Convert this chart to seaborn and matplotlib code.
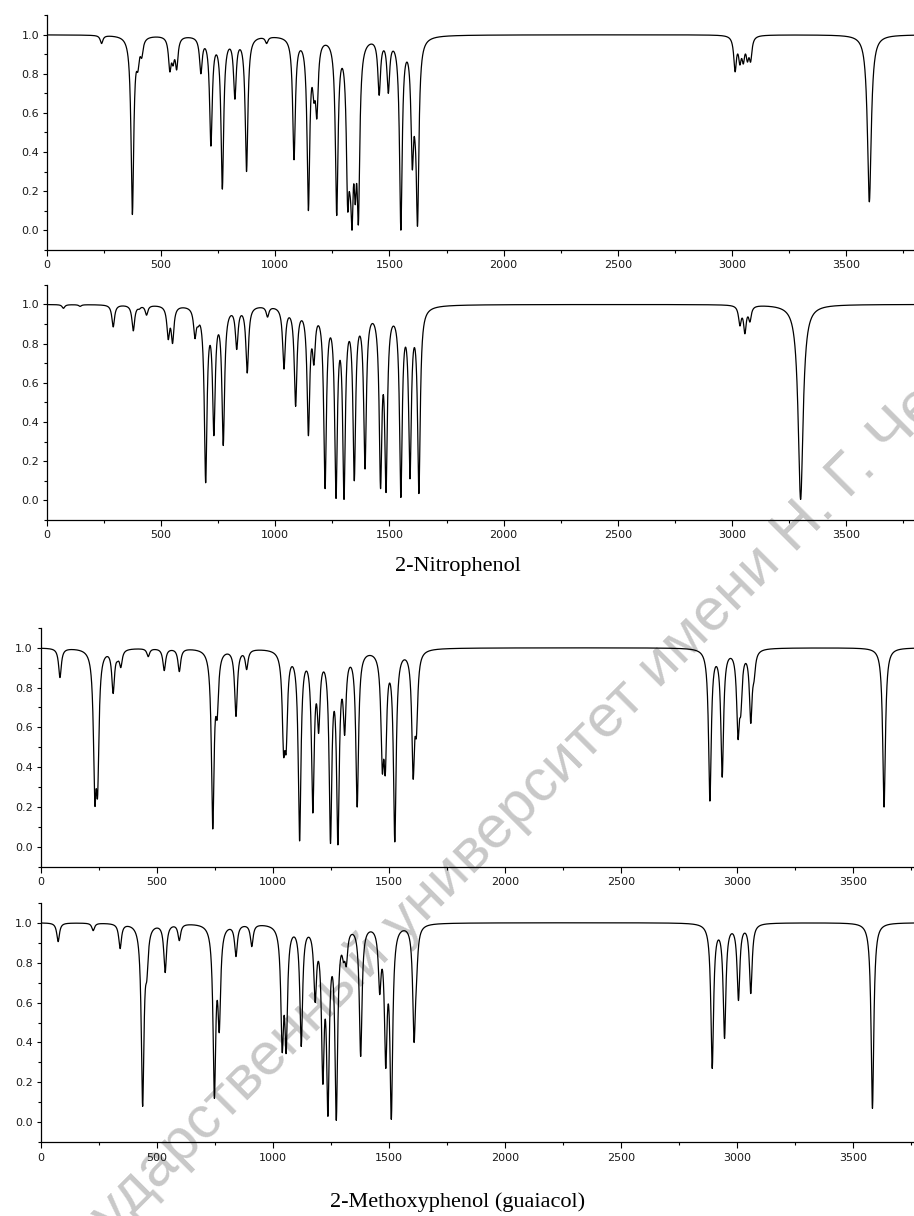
import numpy as np
import pandas as pd
import seaborn as sns
import matplotlib.pyplot as plt
from matplotlib.ticker import FixedLocator, MultipleLocator, FormatStrFormatter
from matplotlib.textpath import TextPath
from matplotlib.font_manager import FontProperties

# ---------------------------------------------------------------------------
# Band tables: wavenumber (cm-1), transmittance at band minimum, half width
# ---------------------------------------------------------------------------
nitro_a_pos = [239, 374, 398, 415, 538, 552, 568, 674, 718, 768, 823, 874, 962,
               1082, 1145, 1169, 1182, 1269, 1317, 1327, 1336, 1350, 1364,
               1455, 1495, 1550, 1600, 1612, 1623,
               3014, 3035, 3050, 3068, 3082, 3602]
nitro_a_min = [0.955, 0.08, 0.81, 0.88, 0.81, 0.84, 0.82, 0.80, 0.43, 0.21, 0.67, 0.30, 0.955,
               0.36, 0.10, 0.65, 0.57, 0.075, 0.10, 0.18, 0.00, 0.13, 0.03,
               0.69, 0.70, 0.00, 0.31, 0.45, 0.02,
               0.81, 0.845, 0.85, 0.86, 0.86, 0.145]
nitro_a_hw = [7] * 34 + [10]

nitro_b_pos = [72, 145, 290, 378, 404, 436, 531, 550, 648, 662, 695, 731, 772,
               831, 877, 966, 1038, 1089, 1145, 1169, 1218, 1266, 1301, 1346,
               1393, 1461, 1485, 1550, 1590, 1629,
               3035, 3057, 3079, 3301]
nitro_b_min = [0.98, 0.99, 0.885, 0.865, 0.975, 0.945, 0.82, 0.80, 0.825, 0.885, 0.09, 0.33, 0.28,
               0.77, 0.65, 0.935, 0.67, 0.48, 0.33, 0.69, 0.06, 0.01, 0.005, 0.10,
               0.16, 0.06, 0.04, 0.015, 0.11, 0.035,
               0.89, 0.85, 0.91, 0.005]
nitro_b_hw = [7] * 33 + [13]

guai_a_pos = [83, 233, 245, 312, 331, 345, 463, 532, 597, 741, 760, 841, 887,
              1046, 1057, 1115, 1172, 1197, 1248, 1280, 1309, 1363, 1471, 1484,
              1525, 1604, 1618,
              2882, 2935, 3003, 3015, 3058, 3072, 3632]
guai_a_min = [0.85, 0.21, 0.25, 0.77, 0.93, 0.90, 0.955, 0.885, 0.88, 0.09, 0.64, 0.655, 0.89,
              0.455, 0.47, 0.03, 0.17, 0.57, 0.017, 0.01, 0.56, 0.20, 0.37, 0.36,
              0.025, 0.34, 0.55,
              0.23, 0.35, 0.54, 0.66, 0.62, 0.83, 0.20]
guai_a_hw = [7] * 34

guai_b_pos = [75, 226, 342, 439, 457, 522, 536, 597, 748, 769, 841, 909,
              1040, 1057, 1122, 1182, 1215, 1237, 1273, 1304, 1316, 1378,
              1460, 1486, 1510, 1608, 1618,
              2892, 2945, 3005, 3058, 3582]
guai_b_min = [0.905, 0.96, 0.87, 0.08, 0.71, 0.955, 0.75, 0.91, 0.12, 0.45, 0.83, 0.88,
              0.35, 0.345, 0.38, 0.60, 0.19, 0.03, 0.01, 0.80, 0.78, 0.33,
              0.64, 0.27, 0.015, 0.40, 0.68,
              0.27, 0.42, 0.61, 0.645, 0.07]
guai_b_hw = [7] * 32

titles = ["2-Nitrophenol", "2-Methoxyphenol (guaiacol)"]
x_ticks = [0, 500, 1000, 1500, 2000, 2500, 3000, 3500]
y_ticks = [0.0, 0.2, 0.4, 0.6, 0.8, 1.0]
watermark = "Саратовский государственный университет имени Н. Г. Чернышевского"


def band_amplitudes(pos, tmin, hw, sweeps=400):
    """Lorentzian amplitudes whose summed profile reaches each band minimum."""
    c = np.asarray(pos, float)
    g = np.asarray(hw, float)
    target = 1.0 - np.asarray(tmin, float)
    M = g[None, :] ** 2 / ((c[:, None] - c[None, :]) ** 2 + g[None, :] ** 2)
    a = target.copy()
    for _ in range(sweeps):
        for i in range(len(a)):
            other = M[i] @ a - a[i]
            a[i] = max(0.0, target[i] - other)
    return a


def spectrum(grid, pos, tmin, hw):
    a = band_amplitudes(pos, tmin, hw)
    c = np.asarray(pos, float)[None, :]
    g = np.asarray(hw, float)[None, :]
    lor = g ** 2 / ((grid[:, None] - c) ** 2 + g ** 2)
    return 1.0 - lor @ a


W, H = 914, 1216
fig = plt.figure(figsize=(W / 100, H / 100), dpi=100)
sns.set_style("ticks")
plt.rcParams["font.family"] = ["DejaVu Sans"]

# background watermark at 45 degrees, drawn beneath the transparent axes;
# its size is chosen so that "д" and "Н" sit about 915 px apart
wm_prop = FontProperties(family="Liberation Sans")
span_1pt = TextPath((0, 0), "дарственный университет имени ", prop=wm_prop,
                    size=1).get_extents().width * 100 / 72
wm_size = 915 / span_1pt
lead_px = TextPath((0, 0), "Саратовский государственный университет имени ",
                   prop=wm_prop, size=wm_size).get_extents().width * 100 / 72
c45 = np.cos(np.deg2rad(45))
hx, hy = 778, 570            # baseline start of "Н"
x0 = hx - lead_px * c45
y0 = hy + lead_px * c45
fig.text(x0 / W, 1 - y0 / H, watermark, rotation=45, rotation_mode="anchor",
         ha="left", va="baseline", fontsize=wm_size, family="Liberation Sans",
         color="#c8c8c8", zorder=-5)

# panel frames in pixels: left, top (y=1.1), bottom (y=-0.1), x max, px per cm-1
frames = [
    (47.0, 15.2, 249.7, 3800, 0.2283),
    (47.0, 284.8, 520.0, 3800, 0.2283),
    (40.7, 627.8, 866.8, 3760, 0.2322),
    (40.7, 902.7, 1142.3, 3760, 0.2322),
]
tables = [
    (nitro_a_pos, nitro_a_min, nitro_a_hw),
    (nitro_b_pos, nitro_b_min, nitro_b_hw),
    (guai_a_pos, guai_a_min, guai_a_hw),
    (guai_b_pos, guai_b_min, guai_b_hw),
]

for (left, top, bottom, xmax, scale), (pos, tmin, hw) in zip(frames, tables):
    width = xmax * scale
    ax = fig.add_axes([left / W, 1 - bottom / H, width / W, (bottom - top) / H])
    ax.set_facecolor("none")
    grid = np.arange(0.0, xmax + 1.0, 0.5)
    df = pd.DataFrame({"wavenumber": grid, "T": spectrum(grid, pos, tmin, hw)})
    sns.lineplot(data=df, x="wavenumber", y="T", ax=ax, color="black",
                 linewidth=0.9, estimator=None, sort=False)
    ax.set_xlim(0, xmax)
    ax.set_ylim(-0.1, 1.1)
    ax.set_xlabel("")
    ax.set_ylabel("")
    ax.xaxis.set_major_locator(FixedLocator(x_ticks))
    ax.xaxis.set_minor_locator(MultipleLocator(250))
    ax.yaxis.set_major_locator(FixedLocator(y_ticks))
    ax.yaxis.set_minor_locator(MultipleLocator(0.1))
    ax.yaxis.set_major_formatter(FormatStrFormatter("%.1f"))
    for side in ("top", "right"):
        ax.spines[side].set_visible(False)
    for side in ("left", "bottom"):
        ax.spines[side].set_linewidth(0.9)
        ax.spines[side].set_color("black")
    ax.tick_params(axis="both", which="both", direction="out", width=0.8,
                   color="black", labelsize=8, labelcolor="#1a1a1a")
    ax.tick_params(axis="y", which="major", length=3.2, pad=2.5)
    ax.tick_params(axis="y", which="minor", length=2)
    ax.tick_params(axis="x", which="major", length=4.5, pad=3)
    ax.tick_params(axis="x", which="minor", length=2.5)
    ax.set_xticklabels([str(t) for t in x_ticks])

title_font = dict(family="Liberation Serif", fontsize=16, color="black",
                  ha="center", va="baseline")
fig.text(458 / W, 1 - 571 / H, titles[0], **title_font)
fig.text(458 / W, 1 - 1207 / H, titles[1], **title_font)

fig.savefig("out.png", dpi=100, facecolor="white")
